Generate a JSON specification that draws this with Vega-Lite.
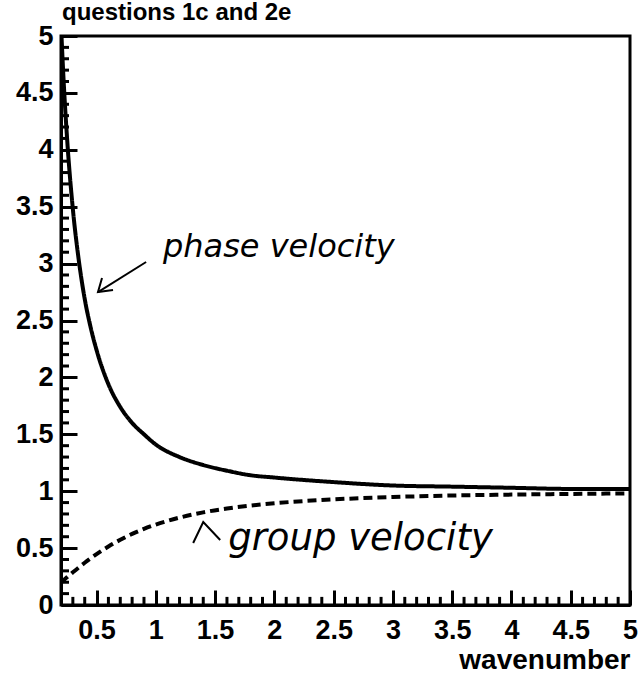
{
  "$schema": "https://vega.github.io/schema/vega-lite/v6.json",
  "width": 569,
  "height": 569,
  "autosize": "none",
  "padding": {"left": 61, "top": 36, "right": 8, "bottom": 71},
  "background": "white",
  "config": {
    "view": {"stroke": "black", "strokeWidth": 3},
    "font": "Liberation Sans",
    "axis": {"grid": false}
  },
  "title": {
    "text": "questions 1c and 2e",
    "anchor": "start",
    "frame": "group",
    "font": "Liberation Sans",
    "fontSize": 24,
    "fontWeight": "bold",
    "color": "black",
    "offset": -3,
    "dx": 1
  },
  "datasets": {
    "curves": [
      {"k": 0.2, "v": 5.10, "series": "phase"},
      {"k": 0.22, "v": 4.65, "series": "phase"},
      {"k": 0.25, "v": 4.12, "series": "phase"},
      {"k": 0.3, "v": 3.48, "series": "phase"},
      {"k": 0.35, "v": 3.03, "series": "phase"},
      {"k": 0.4, "v": 2.69, "series": "phase"},
      {"k": 0.45, "v": 2.44, "series": "phase"},
      {"k": 0.5, "v": 2.24, "series": "phase"},
      {"k": 0.6, "v": 1.94, "series": "phase"},
      {"k": 0.7, "v": 1.74, "series": "phase"},
      {"k": 0.8, "v": 1.60, "series": "phase"},
      {"k": 0.9, "v": 1.50, "series": "phase"},
      {"k": 1.0, "v": 1.41, "series": "phase"},
      {"k": 1.2, "v": 1.30, "series": "phase"},
      {"k": 1.4, "v": 1.23, "series": "phase"},
      {"k": 1.6, "v": 1.18, "series": "phase"},
      {"k": 1.8, "v": 1.14, "series": "phase"},
      {"k": 2.0, "v": 1.12, "series": "phase"},
      {"k": 2.5, "v": 1.08, "series": "phase"},
      {"k": 3.0, "v": 1.05, "series": "phase"},
      {"k": 3.5, "v": 1.04, "series": "phase"},
      {"k": 4.0, "v": 1.03, "series": "phase"},
      {"k": 4.5, "v": 1.02, "series": "phase"},
      {"k": 5.0, "v": 1.02, "series": "phase"},
      {"k": 0.2, "v": 0.196, "series": "group"},
      {"k": 0.25, "v": 0.243, "series": "group"},
      {"k": 0.3, "v": 0.287, "series": "group"},
      {"k": 0.35, "v": 0.330, "series": "group"},
      {"k": 0.4, "v": 0.371, "series": "group"},
      {"k": 0.45, "v": 0.410, "series": "group"},
      {"k": 0.5, "v": 0.447, "series": "group"},
      {"k": 0.6, "v": 0.514, "series": "group"},
      {"k": 0.7, "v": 0.573, "series": "group"},
      {"k": 0.8, "v": 0.625, "series": "group"},
      {"k": 0.9, "v": 0.669, "series": "group"},
      {"k": 1.0, "v": 0.707, "series": "group"},
      {"k": 1.2, "v": 0.768, "series": "group"},
      {"k": 1.4, "v": 0.814, "series": "group"},
      {"k": 1.6, "v": 0.848, "series": "group"},
      {"k": 1.8, "v": 0.874, "series": "group"},
      {"k": 2.0, "v": 0.894, "series": "group"},
      {"k": 2.5, "v": 0.928, "series": "group"},
      {"k": 3.0, "v": 0.949, "series": "group"},
      {"k": 3.5, "v": 0.962, "series": "group"},
      {"k": 4.0, "v": 0.970, "series": "group"},
      {"k": 4.5, "v": 0.976, "series": "group"},
      {"k": 5.0, "v": 0.981, "series": "group"}
    ],
    "xminor": [
      {"t": 0.3}, {"t": 0.4}, {"t": 0.6}, {"t": 0.7}, {"t": 0.8}, {"t": 0.9},
      {"t": 1.1}, {"t": 1.2}, {"t": 1.3}, {"t": 1.4}, {"t": 1.6}, {"t": 1.7}, {"t": 1.8}, {"t": 1.9},
      {"t": 2.1}, {"t": 2.2}, {"t": 2.3}, {"t": 2.4}, {"t": 2.6}, {"t": 2.7}, {"t": 2.8}, {"t": 2.9},
      {"t": 3.1}, {"t": 3.2}, {"t": 3.3}, {"t": 3.4}, {"t": 3.6}, {"t": 3.7}, {"t": 3.8}, {"t": 3.9},
      {"t": 4.1}, {"t": 4.2}, {"t": 4.3}, {"t": 4.4}, {"t": 4.6}, {"t": 4.7}, {"t": 4.8}, {"t": 4.9}
    ],
    "yminor": [
      {"t": 0.1}, {"t": 0.2}, {"t": 0.3}, {"t": 0.4}, {"t": 0.6}, {"t": 0.7}, {"t": 0.8}, {"t": 0.9},
      {"t": 1.1}, {"t": 1.2}, {"t": 1.3}, {"t": 1.4}, {"t": 1.6}, {"t": 1.7}, {"t": 1.8}, {"t": 1.9},
      {"t": 2.1}, {"t": 2.2}, {"t": 2.3}, {"t": 2.4}, {"t": 2.6}, {"t": 2.7}, {"t": 2.8}, {"t": 2.9},
      {"t": 3.1}, {"t": 3.2}, {"t": 3.3}, {"t": 3.4}, {"t": 3.6}, {"t": 3.7}, {"t": 3.8}, {"t": 3.9},
      {"t": 4.1}, {"t": 4.2}, {"t": 4.3}, {"t": 4.4}, {"t": 4.6}, {"t": 4.7}, {"t": 4.8}, {"t": 4.9}
    ],
    "arrows": [
      {"seg": "p1", "i": 1, "x": 0.918, "y": 3.014},
      {"seg": "p1", "i": 2, "x": 0.512, "y": 2.750},
      {"seg": "p2", "i": 1, "x": 0.546, "y": 2.873},
      {"seg": "p2", "i": 2, "x": 0.512, "y": 2.750},
      {"seg": "p2", "i": 3, "x": 0.639, "y": 2.768},
      {"seg": "g1", "i": 1, "x": 1.315, "y": 0.545},
      {"seg": "g1", "i": 2, "x": 1.40, "y": 0.729},
      {"seg": "g1", "i": 3, "x": 1.543, "y": 0.571}
    ],
    "notes": [
      {"x": 1.06, "y": 3.06, "label": "phase velocity", "which": "phase"},
      {"x": 1.61, "y": 0.48, "label": "group velocity", "which": "group"}
    ]
  },
  "layer": [
    {
      "data": {"name": "curves"},
      "mark": {"type": "line", "color": "black", "strokeWidth": 4, "clip": true, "interpolate": "monotone"},
      "encoding": {
        "x": {
          "field": "k", "type": "quantitative",
          "scale": {"domain": [0.2, 5], "nice": false, "zero": false},
          "axis": {
            "values": [0.5, 1, 1.5, 2, 2.5, 3, 3.5, 4, 4.5, 5],
            "format": "~g",
            "tickSize": -15, "tickWidth": 3, "tickColor": "black",
            "domainColor": "black", "domainWidth": 3,
            "labelPadding": 27, "labelFontSize": 27, "labelFontWeight": "bold",
            "labelColor": "black", "labelFont": "Liberation Sans",
            "labelFlush": false, "labelOverlap": false,
            "title": "wavenumber", "titleFontSize": 28, "titleFontWeight": "bold",
            "titleFont": "Liberation Sans", "titleColor": "black",
            "titleAnchor": "end", "titleAlign": "right", "titlePadding": 3
          }
        },
        "y": {
          "field": "v", "type": "quantitative",
          "scale": {"domain": [0, 5], "nice": false},
          "axis": {
            "values": [0, 0.5, 1, 1.5, 2, 2.5, 3, 3.5, 4, 4.5, 5],
            "format": "~g",
            "tickSize": -16, "tickWidth": 3, "tickColor": "black",
            "domainColor": "black", "domainWidth": 3,
            "labelPadding": 24, "labelFontSize": 27, "labelFontWeight": "bold",
            "labelColor": "black", "labelFont": "Liberation Sans",
            "labelFlush": false, "labelOverlap": false,
            "title": null
          }
        },
        "strokeDash": {
          "field": "series", "type": "nominal",
          "scale": {"domain": ["phase", "group"], "range": [[1, 0], [9, 5]]},
          "legend": null
        }
      }
    },
    {
      "data": {"name": "xminor"},
      "mark": {"type": "tick", "orient": "vertical", "color": "black", "size": 8, "thickness": 3, "opacity": 1, "yOffset": -4},
      "encoding": {
        "x": {"field": "t", "type": "quantitative"},
        "y": {"datum": 0.001}
      }
    },
    {
      "data": {"name": "yminor"},
      "mark": {"type": "tick", "orient": "horizontal", "color": "black", "size": 8, "thickness": 3, "opacity": 1, "xOffset": 4},
      "encoding": {
        "y": {"field": "t", "type": "quantitative"},
        "x": {"datum": 0.2}
      }
    },
    {
      "data": {"name": "arrows"},
      "mark": {"type": "line", "color": "black", "strokeWidth": 2},
      "encoding": {
        "x": {"field": "x", "type": "quantitative"},
        "y": {"field": "y", "type": "quantitative"},
        "detail": {"field": "seg", "type": "nominal"},
        "order": {"field": "i", "type": "quantitative"}
      }
    },
    {
      "data": {"name": "notes"},
      "transform": [{"filter": "datum.which == 'phase'"}],
      "mark": {"type": "text", "align": "left", "baseline": "alphabetic", "fontSize": 32, "font": "DejaVu Sans", "fontStyle": "italic", "fontWeight": "normal", "color": "black"},
      "encoding": {
        "x": {"field": "x", "type": "quantitative"},
        "y": {"field": "y", "type": "quantitative"},
        "text": {"field": "label", "type": "nominal"}
      }
    },
    {
      "data": {"name": "notes"},
      "transform": [{"filter": "datum.which == 'group'"}],
      "mark": {"type": "text", "align": "left", "baseline": "alphabetic", "fontSize": 37, "font": "DejaVu Sans", "fontStyle": "italic", "fontWeight": "normal", "color": "black"},
      "encoding": {
        "x": {"field": "x", "type": "quantitative"},
        "y": {"field": "y", "type": "quantitative"},
        "text": {"field": "label", "type": "nominal"}
      }
    }
  ]
}
